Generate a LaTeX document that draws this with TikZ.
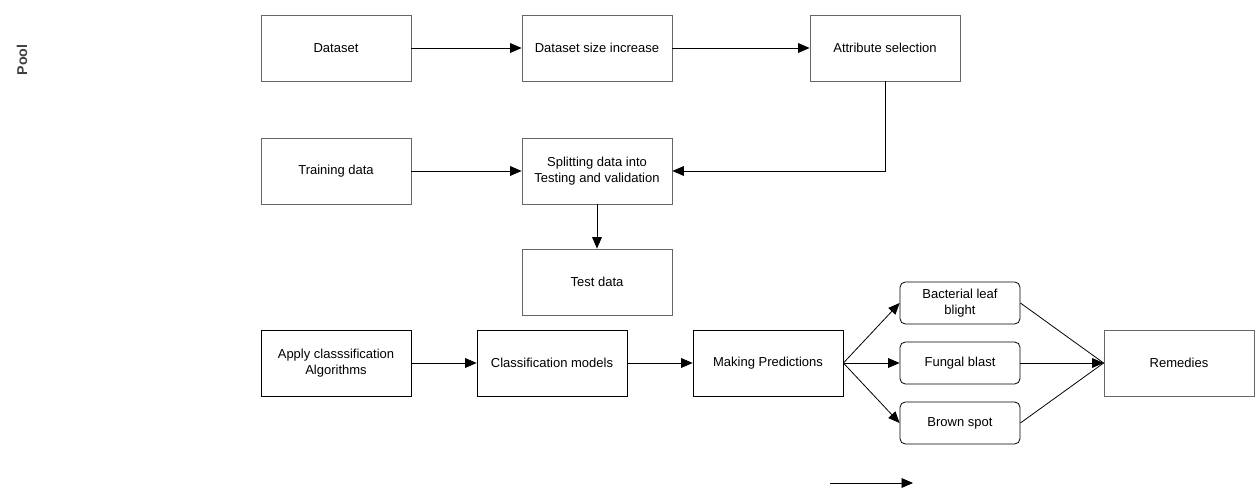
\documentclass[tikz,border=0pt]{standalone}
\usepackage{fontspec}
\setmainfont{Liberation Sans}
\usetikzlibrary{arrows.meta}
\definecolor{boxgray}{RGB}{102,102,102}
\definecolor{pooltext}{RGB}{64,64,64}
\tikzset{
 box/.style={draw=boxgray,line width=0.45pt,minimum width=3cm,minimum height=1.32cm,align=center,inner sep=1pt,font=\fontsize{7.4}{9}\selectfont},
 darkbox/.style={box,draw=black},
 roundbox/.style={box,draw=black,rounded corners=3pt,minimum width=2.4cm,minimum height=0.84cm},
 arr/.style={-{Triangle[length=6.5pt,width=5.5pt]},line width=0.45pt},
}
\begin{document}
\begin{tikzpicture}[x=0.02cm,y=-0.02cm]
 \useasboundingbox (0,0) rectangle (1258,496);
 \node[rotate=90,text=pooltext,font=\bfseries\fontsize{8.1}{9}\selectfont] (pool) at (22,60) {Pool};
 \node[box] (dataset) at (336,48) {Dataset};
 \node[box] (sizeinc) at (597,48) {Dataset size increase};
 \node[box] (attrsel) at (885,48) {Attribute selection};
 \node[box] (train) at (336,171) {Training data};
 \node[box] (split) at (597,171) {Splitting data into\\Testing and validation};
 \node[box] (test) at (597,282) {Test data};
 \node[darkbox] (apply) at (336,363) {Apply classsification\\Algorithms};
 \node[darkbox] (models) at (552,363) {Classification models};
 \node[darkbox] (predict) at (768,363) {Making Predictions};
 \node[roundbox] (blight) at (960,303) {Bacterial leaf\\blight};
 \node[roundbox] (fungal) at (960,363) {Fungal blast};
 \node[roundbox] (brown) at (960,423) {Brown spot};
 \node[box] (remedy) at (1179,363) {Remedies};
 \draw[arr] (dataset) -- (sizeinc);
 \draw[arr] (sizeinc) -- (attrsel);
 \draw[arr] (attrsel.south) |- (split.east);
 \draw[arr] (train) -- (split);
 \draw[arr] (split) -- (test);
 \draw[arr] (apply) -- (models);
 \draw[arr] (models) -- (predict);
 \draw[arr] (predict.east) -- (blight.west);
 \draw[arr] (predict.east) -- (fungal.west);
 \draw[arr] (predict.east) -- (brown.west);
 \draw[line width=0.45pt] (blight.east) -- (remedy.west);
 \draw[arr] (fungal) -- (remedy);
 \draw[line width=0.45pt] (brown.east) -- (remedy.west);
 \coordinate (legstart) at (830,483);
 \coordinate (legend) at (913,483);
 \draw[arr] (legstart) -- (legend);
\end{tikzpicture}
\end{document}
